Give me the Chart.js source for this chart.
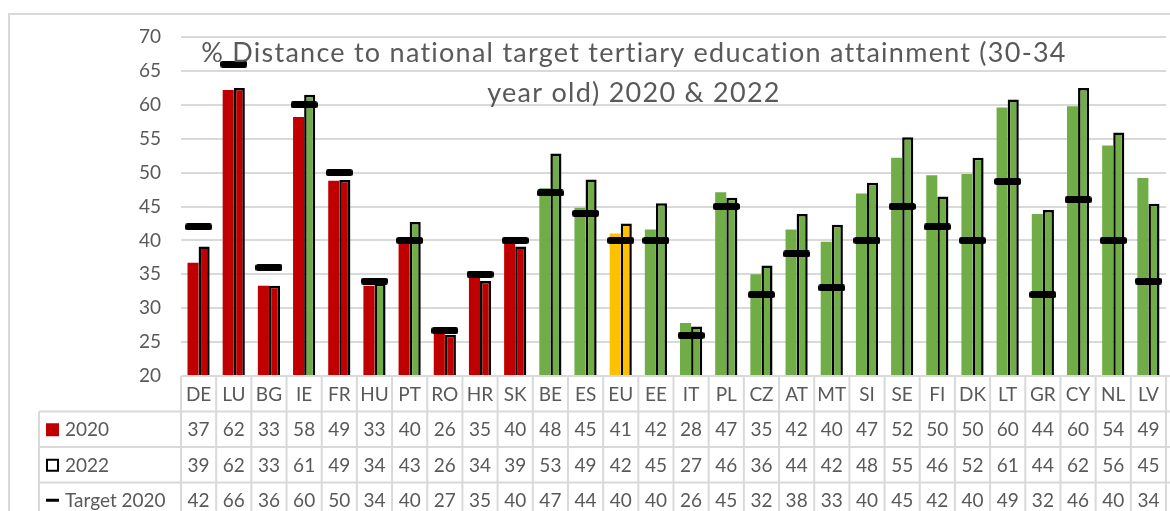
<!DOCTYPE html>
<html>
<head>
<meta charset="utf-8">
<script src="https://cdn.jsdelivr.net/npm/chart.js@4.4.1/dist/chart.umd.min.js"></script>
<style>
  html, body { margin: 0; padding: 0; background: #fff; overflow: hidden; }
  #wrap { width: 1180px; height: 511px; }
</style>
</head>
<body>
<div id="wrap"><canvas id="chart" width="1180" height="511"></canvas></div>
<script>
// ---------- data ----------
const categories = ["DE", "LU", "BG", "IE", "FR", "HU", "PT", "RO", "HR", "SK", "BE", "ES", "EU", "EE",
  "IT", "PL", "CZ", "AT", "MT", "SI", "SE", "FI", "DK", "LT", "GR", "CY", "NL", "LV"];
const values2020 = [36.7, 62.2, 33.3, 58.2, 48.8, 33.3, 39.6, 26.3, 34.6, 39.6, 47.7, 44.8, 41.0, 41.6,
  27.8, 47.1, 35.0, 41.6, 39.8, 46.9, 52.2, 49.6, 49.8, 59.6, 43.9, 59.8, 54.0, 49.2];
const values2022 = [39.1, 62.49, 33.3, 61.49, 48.9, 33.6, 42.7, 26.1, 34.0, 39.1, 52.8, 49.0, 42.49, 45.49,
  27.3, 46.3, 36.3, 43.9, 42.3, 48.49, 55.2, 46.49, 52.2, 60.8, 44.49, 62.49, 55.9, 45.4];
const target2020 = [42, 66, 36, 60, 50, 34, 40, 26.7, 35, 40, 47, 44, 40, 40,
  26, 45, 32, 38, 33, 40, 45, 42, 40, 48.7, 32, 46, 40, 34];
const seriesNames = ["2020", "2022", "Target 2020"];
const yMin = 20, yMax = 70, yStep = 5;
const titleLines = ["% Distance to national target tertiary education attainment (30-34", "year old) 2020 & 2022"];

// ---------- colours ----------
const RED = "#C00000", GREEN = "#70AD47", GOLD = "#FFC000";
const TEXT = "#595959", LINE = "#D9D9D9";
const R = RED, G = GREEN, Y = GOLD;
const colors2020 = [R, R, R, R, R, R, R, R, R, R, G, G, Y, G, G, G, G, G, G, G, G, G, G, G, G, G, G, G];
const colors2022 = [R, R, R, G, R, G, G, R, R, R, G, G, Y, G, G, G, G, G, G, G, G, G, G, G, G, G, G, G];

const FONT = "Lato, 'Open Sans', sans-serif";

// target marker: short black bar with rounded ends
const dash = document.createElement("canvas");
dash.width = 27; dash.height = 7;
{
  const d = dash.getContext("2d");
  d.fillStyle = "#000";
  d.beginPath();
  d.roundRect(0, 0, 27, 7, 2.5);
  d.fill();
}

// ---------- plugins: frame, title, data table ----------
const framePlugin = {
  id: "frame",
  beforeDraw(chart) {
    const ctx = chart.ctx;
    ctx.save();
    ctx.strokeStyle = LINE;
    ctx.lineWidth = 2;
    ctx.strokeRect(9, 14, 1400, 800);
    ctx.restore();
  },
};

const titlePlugin = {
  id: "ttl",
  afterDraw(chart) {
    const ctx = chart.ctx;
    ctx.save();
    ctx.fillStyle = TEXT;
    ctx.font = `27px ${FONT}`;
    ctx.textAlign = "center";
    ctx.textBaseline = "alphabetic";
    // spread the letters a little so the first line spans like the original
    const w = ctx.measureText(titleLines[0]).width;
    if ("letterSpacing" in ctx) ctx.letterSpacing = Math.max(0, (866 - w) / titleLines[0].length) + "px";
    ctx.fillText(titleLines[0], 634, 62);
    ctx.fillText(titleLines[1], 634, 101.5);
    ctx.restore();
  },
};

const tablePlugin = {
  id: "dataTable",
  afterDraw(chart) {
    const { ctx, chartArea: a } = chart;
    const n = categories.length;
    const colW = (a.right - a.left) / n;
    const top = a.bottom;
    const rowH = 35.5;
    const legendX = 39;

    ctx.save();
    ctx.strokeStyle = LINE;
    ctx.lineWidth = 2;
    ctx.beginPath();
    ctx.moveTo(a.left, top); ctx.lineTo(chart.width, top);
    for (let r = 1; r <= 3; r++) {
      const y = top + r * rowH;
      ctx.moveTo(legendX, y); ctx.lineTo(chart.width, y);
    }
    for (let i = 0; i <= n; i++) {
      const x = a.left + i * colW;
      ctx.moveTo(x, top); ctx.lineTo(x, chart.height);
    }
    ctx.moveTo(legendX, top + rowH); ctx.lineTo(legendX, chart.height);
    ctx.stroke();

    ctx.fillStyle = TEXT;
    ctx.font = `19px ${FONT}`;
    ctx.textAlign = "center";
    ctx.textBaseline = "middle";
    const rows = [values2020, values2022, target2020];
    for (let i = 0; i < n; i++) {
      const cx = chart.scales.x.getPixelForValue(i);
      ctx.fillText(categories[i], cx, top + rowH / 2 + 1);
      rows.forEach((row, r) => {
        ctx.fillText(String(Math.round(row[i])), cx, top + (r + 1.5) * rowH + 1);
      });
    }

    // legend keys
    ctx.textAlign = "left";
    const keyX = 46, labX = 65;
    let cy = top + 1.5 * rowH;
    ctx.fillStyle = RED;
    ctx.fillRect(keyX, cy - 6, 13, 13);
    ctx.fillStyle = TEXT;
    ctx.fillText(seriesNames[0], labX, cy + 1);

    cy = top + 2.5 * rowH;
    ctx.strokeStyle = "#000";
    ctx.lineWidth = 2;
    ctx.strokeRect(keyX + 1, cy - 5, 11, 11);
    ctx.fillText(seriesNames[1], labX, cy + 1);

    cy = top + 3.5 * rowH;
    ctx.fillStyle = "#000";
    ctx.fillRect(keyX, cy - 1.5, 13, 3);
    ctx.fillStyle = TEXT;
    ctx.fillText(seriesNames[2], labX, cy + 1);
    ctx.restore();
  },
};

// ---------- chart ----------
new Chart(document.getElementById("chart"), {
  type: "bar",
  data: {
    labels: categories,
    datasets: [
      {
        type: "line", label: seriesNames[2], data: target2020, order: 0,
        showLine: false, pointStyle: dash, pointRadius: 13, pointHoverRadius: 13,
      },
      {
        label: seriesNames[0], data: values2020, order: 1,
        backgroundColor: colors2020, borderWidth: 0,
        barPercentage: 1, categoryPercentage: 0.63,
      },
      {
        label: seriesNames[1], data: values2022, order: 1,
        backgroundColor: colors2022, borderColor: "#000", borderWidth: 2.5,
        barPercentage: 1, categoryPercentage: 0.63,
      },
    ],
  },
  options: {
    responsive: false,
    animation: false,
    layout: { padding: { left: 0, top: 37, right: 5, bottom: 135 } },
    plugins: { legend: { display: false }, tooltip: { enabled: false }, title: { display: false } },
    scales: {
      x: { display: false },
      y: {
        min: yMin, max: yMax,
        afterFit: (s) => { s.width = 181; },
        border: { display: false },
        grid: { color: LINE, lineWidth: 2, drawTicks: false },
        ticks: { stepSize: yStep, padding: 20, color: TEXT, font: { family: FONT, size: 19 } },
      },
    },
  },
  plugins: [framePlugin, titlePlugin, tablePlugin],
});
</script>
</body>
</html>
